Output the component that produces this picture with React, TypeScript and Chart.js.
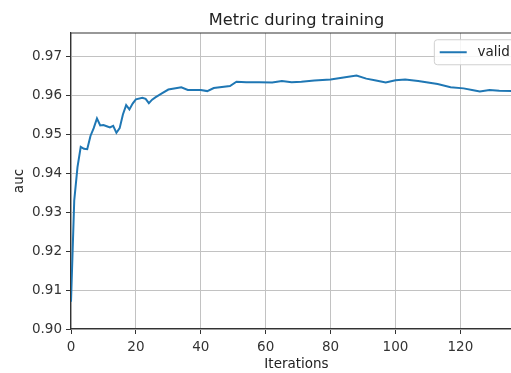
import { useEffect, useRef } from "react";
import { Chart, registerables } from "chart.js";

Chart.register(...registerables);

const chartTitle = "Metric during training";
const seriesLabel = "valid";
const xLabel = "Iterations";
const yLabel = "auc";

const iterations = [
  0, 1, 2, 3, 4, 5, 6, 7, 8, 9, 10, 11, 12, 13, 14, 15, 16, 17, 18, 19, 20, 22, 23, 24, 25, 26, 28, 30, 34, 36,
  40, 42, 44, 49, 51, 54, 58, 62, 65, 68, 71, 75, 80, 84, 88, 91, 94, 97, 100, 103, 107, 110, 113, 117, 121,
  124, 126, 129, 132, 136, 139,
];
const aucValid = [
  0.907, 0.933, 0.9415, 0.9467, 0.9462, 0.9461, 0.9495, 0.9515, 0.954, 0.9522, 0.9523, 0.952, 0.9517, 0.9521,
  0.9503, 0.9515, 0.955, 0.9574, 0.9563, 0.9578, 0.9589, 0.9593, 0.959, 0.9579, 0.9588, 0.9594, 0.9604, 0.9614,
  0.962, 0.9613, 0.9613, 0.961, 0.9618, 0.9623, 0.9634, 0.9633, 0.9633, 0.9632, 0.9636, 0.9633, 0.9634, 0.9637,
  0.964, 0.9645, 0.965, 0.9642, 0.9637, 0.9632, 0.9638, 0.964, 0.9636, 0.9632, 0.9628, 0.962, 0.9617, 0.9612,
  0.9609, 0.9613, 0.9611, 0.961, 0.961,
];
const xTicks = [0, 20, 40, 60, 80, 100, 120];
const yTicks = [0.9, 0.91, 0.92, 0.93, 0.94, 0.95, 0.96, 0.97];
const xMin = 0;
const xMax = 139;
const yMin = 0.9;
const yMax = 0.9759;

const FONT = '"DejaVu Sans", sans-serif';
const SPINE = "#333333";
const GRID = "#c2c2c2";
const LINE = "#1f77b4";

const decorPlugin = {
  id: "decor",
  afterDraw(chart: any) {
    const { ctx, chartArea: a } = chart;
    ctx.save();
    // top spine
    ctx.strokeStyle = SPINE;
    ctx.lineWidth = 1.2;
    ctx.beginPath();
    ctx.moveTo(a.left, a.top);
    ctx.lineTo(a.right, a.top);
    ctx.stroke();
    // title
    ctx.fillStyle = "#222";
    ctx.font = `16.2px ${FONT}`;
    ctx.textAlign = "center";
    ctx.textBaseline = "alphabetic";
    ctx.fillText(chartTitle, (a.left + a.right) / 2, 25);
    // legend
    const fs = 13.5;
    ctx.font = `${fs}px ${FONT}`;
    const tw = ctx.measureText(seriesLabel).width;
    const bp = 0.4 * fs;
    const hl = 2 * fs;
    const hp = 0.8 * fs;
    const w = bp + hl + hp + tw + bp;
    const h = 25;
    const x0 = a.right - 0.5 * fs - w;
    const y0 = a.top + 0.5 * fs;
    const r = 3;
    ctx.beginPath();
    ctx.moveTo(x0 + r, y0);
    ctx.lineTo(x0 + w - r, y0);
    ctx.arcTo(x0 + w, y0, x0 + w, y0 + r, r);
    ctx.lineTo(x0 + w, y0 + h - r);
    ctx.arcTo(x0 + w, y0 + h, x0 + w - r, y0 + h, r);
    ctx.lineTo(x0 + r, y0 + h);
    ctx.arcTo(x0, y0 + h, x0, y0 + h - r, r);
    ctx.lineTo(x0, y0 + r);
    ctx.arcTo(x0, y0, x0 + r, y0, r);
    ctx.closePath();
    ctx.fillStyle = "rgba(255,255,255,0.85)";
    ctx.fill();
    ctx.strokeStyle = "#d0d0d0";
    ctx.lineWidth = 1;
    ctx.stroke();
    const cy = y0 + h / 2;
    ctx.strokeStyle = LINE;
    ctx.lineWidth = 2;
    ctx.beginPath();
    ctx.moveTo(x0 + bp, cy);
    ctx.lineTo(x0 + bp + hl, cy);
    ctx.stroke();
    ctx.fillStyle = "#222";
    ctx.textAlign = "left";
    ctx.textBaseline = "middle";
    ctx.fillText(seriesLabel, x0 + bp + hl + hp, cy);
    ctx.restore();
  },
};

export default function App() {
  const ref = useRef<HTMLCanvasElement | null>(null);

  useEffect(() => {
    if (!ref.current) return;
    Chart.defaults.font.family = FONT;
    const chart = new Chart(ref.current, {
      type: "line",
      data: {
        datasets: [
          {
            label: seriesLabel,
            data: iterations.map((x, i) => ({ x, y: aucValid[i] })),
            borderColor: LINE,
            backgroundColor: LINE,
            borderWidth: 2,
            pointRadius: 0,
            tension: 0,
          },
        ],
      },
      options: {
        responsive: false,
        animation: false,
        devicePixelRatio: 1,
        layout: { padding: { top: 33, right: 8, left: 0, bottom: 0 } },
        plugins: {
          legend: { display: false },
          title: { display: false },
          tooltip: { enabled: false },
        },
        scales: {
          x: {
            type: "linear",
            min: xMin,
            max: xMax,
            afterFit: (s: any) => {
              s.height = 44;
            },
            afterBuildTicks: (s: any) => {
              s.ticks = xTicks.map((v) => ({ value: v }));
            },
            ticks: {
              color: "#333",
              font: { size: 13.5, family: FONT },
              padding: 5,
              maxRotation: 0,
              autoSkip: false,
              callback: (v: any) => String(v),
            },
            grid: {
              color: GRID,
              lineWidth: 1,
              tickLength: 5,
              tickColor: SPINE,
              tickWidth: 1,
            },
            border: { color: SPINE, width: 1.2 },
            title: {
              display: true,
              text: xLabel,
              color: "#222",
              font: { size: 13.5, family: FONT },
              padding: { top: 0, bottom: 0 },
            },
          },
          y: {
            type: "linear",
            min: yMin,
            max: yMax,
            afterFit: (s: any) => {
              s.width = 71;
            },
            afterBuildTicks: (s: any) => {
              s.ticks = yTicks.map((v) => ({ value: v }));
            },
            ticks: {
              color: "#333",
              font: { size: 13.5, family: FONT },
              padding: 4,
              autoSkip: false,
              callback: (v: any) => Number(v).toFixed(2),
            },
            grid: {
              color: GRID,
              lineWidth: 1,
              tickLength: 5,
              tickColor: SPINE,
              tickWidth: 1,
            },
            border: { color: SPINE, width: 1.2 },
            title: {
              display: true,
              text: yLabel,
              color: "#222",
              font: { size: 13.5, family: FONT },
              padding: { top: 11, bottom: 0 },
            },
          },
        },
      },
      plugins: [decorPlugin],
    });
    return () => chart.destroy();
  }, []);

  return (
    <div
      style={{
        position: "fixed",
        left: 0,
        top: 0,
        width: 511,
        height: 373,
        overflow: "hidden",
        background: "#fff",
      }}
    >
      <canvas ref={ref} width={530} height={373} style={{ width: 530, height: 373, display: "block" }} />
    </div>
  );
}
